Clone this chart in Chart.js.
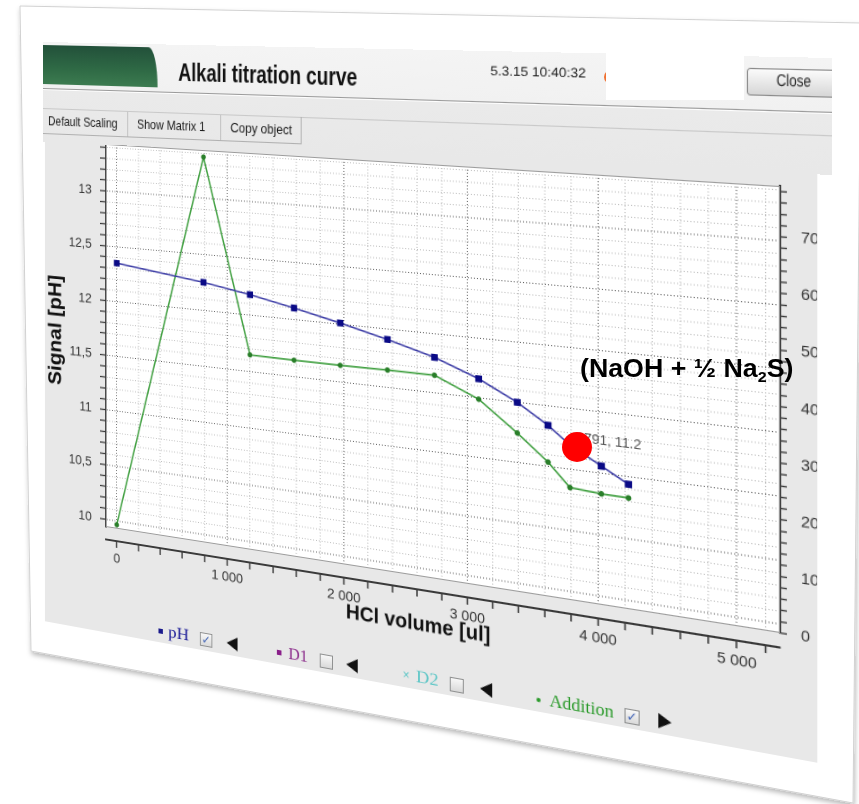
<!DOCTYPE html>
<html>
<head>
<meta charset="utf-8">
<title>Alkali titration curve</title>
<script src="https://cdn.jsdelivr.net/npm/chart.js@4.4.1/dist/chart.umd.min.js"></script>
<style>
  html, body { margin:0; padding:0; background:#fff; }
  body { width:859px; height:804px; position:relative; overflow:hidden; font-family:"Liberation Sans", Arial, sans-serif; }
  #frame { position:absolute; left:0; top:0; }
  .warp { position:absolute; left:0; top:0; transform-origin:0 0; overflow:hidden; }
  #chartWin { width:785px; height:612px; background:#e8e8e8; }
  #chartWin canvas { position:absolute; left:0; top:0; }
  #header { width:790px; height:100px; background:linear-gradient(#f4f4f4 0, #f1f1f1 46px, #eaeaea 48px, #e8e8e8 100%); }
  .txt { position:absolute; white-space:nowrap; line-height:1; transform-origin:0 50%; }
  .box { position:absolute; }
  .cb { position:absolute; width:12px; height:12px; top:593.5px; border:1px solid #8f9090; background:linear-gradient(#f7f7f7,#d9d9d9); }
  .cb span { position:absolute; left:1px; top:-1px; font:bold 12px "DejaVu Sans", sans-serif; color:#3b5fb4; line-height:14px; }
  .lt { position:absolute; width:0; height:0; top:593px; border-top:7px solid transparent; border-bottom:7px solid transparent; border-right:12px solid #111; }
  .rt { position:absolute; width:0; height:0; top:593px; border-top:7px solid transparent; border-bottom:7px solid transparent; border-left:12px solid #111; }
  .leg { font-family:"Liberation Serif", "Times New Roman", serif; font-size:17px; top:590.8px; }
</style>
</head>
<body>
<svg id="frame" width="859" height="804">
  <defs>
    <filter id="sh" x="-5%" y="-5%" width="110%" height="110%">
      <feDropShadow dx="1" dy="3" stdDeviation="2.5" flood-color="#000" flood-opacity="0.28"/>
    </filter>
  </defs>
  <polygon points="20,6 861,23 853,803 31,651" fill="#fff" stroke="#d2d2d2" stroke-width="1" filter="url(#sh)"/>
</svg>

<div id="chartWin" class="warp">
  <canvas id="c" width="785" height="612"></canvas>
  <!-- legend row -->
  <div class="box" style="left:134px;top:598px;width:5px;height:5px;background:#1a1a8c"></div>
  <div class="txt leg" style="left:144.5px;color:#1e1e98" data-w="24">pH</div>
  <div class="cb" style="left:181px"><span>✓</span></div>
  <div class="lt" style="left:211px"></div>

  <div class="box" style="left:266.3px;top:598px;width:5px;height:5px;background:#8a1f8a"></div>
  <div class="txt leg" style="left:278.5px;color:#8a2a8a" data-w="21">D1</div>
  <div class="cb" style="left:312px"></div>
  <div class="lt" style="left:340px"></div>

  <div class="txt" style="left:398.5px;top:594px;font-size:12px;color:#5cc6c6">×</div>
  <div class="txt leg" style="left:411.8px;color:#5cc6c6" data-w="23">D2</div>
  <div class="cb" style="left:446px"></div>
  <div class="lt" style="left:475.8px"></div>

  <div class="box" style="left:531px;top:598.5px;width:4px;height:4px;border-radius:50%;background:#2a9a2a"></div>
  <div class="txt leg" style="left:543.6px;color:#2a9a2a" data-w="60">Addition</div>
  <div class="cb" style="left:613.8px"><span>✓</span></div>
  <div class="rt" style="left:644.8px"></div>
</div>

<div id="header" class="warp">
  <div class="box" style="left:0;top:3px;width:131px;height:39px;background:linear-gradient(#22503a,#2f6a45 60%,#3c7b50);border-radius:0 10px 0 0 / 0 39px 0 0"></div>
  <div class="txt" style="left:154px;top:14.6px;font-size:24px;font-weight:bold;color:#111" data-w="191">Alkali titration curve</div>
  <div class="txt" style="left:478px;top:12.4px;font-size:12px;color:#222" data-w="91">5.3.15 10:40:32</div>
  <div class="box" style="left:716px;top:9.6px;width:80px;height:22.4px;border:1px solid #8a8a8a;border-radius:3px;background:linear-gradient(#fbfbfb,#d6d6d6)"></div>
  <div class="txt" style="left:742px;top:12.6px;font-size:14.5px;color:#222" data-w="30">Close</div>
  <div class="box" style="left:0;top:46px;width:790px;height:1px;background:#9a9a9a"></div>
  <div class="box" style="left:0;top:47px;width:790px;height:1px;background:#fff"></div>
  <div class="box" style="left:0;top:66px;width:790px;height:1px;background:#c9c9c9"></div>
  <div class="txt" style="left:5.8px;top:71.5px;font-size:13px;color:#1a1a1a" data-w="79.5">Default Scaling</div>
  <div class="box" style="left:96.6px;top:67px;width:1px;height:24px;background:#bdbdbd"></div>
  <div class="txt" style="left:108px;top:71.5px;font-size:13px;color:#1a1a1a" data-w="75.4">Show Matrix 1</div>
  <div class="box" style="left:199.7px;top:67px;width:1px;height:24px;background:#bdbdbd"></div>
  <div class="txt" style="left:210.6px;top:72px;font-size:13px;color:#1a1a1a" data-w="66.2">Copy object</div>
  <div class="box" style="left:286.3px;top:66px;width:1px;height:25px;background:#b0b0b0"></div>
  <div class="box" style="left:0;top:91px;width:287px;height:1px;background:#b0b0b0"></div>
</div>

<!-- overlays drawn on the photo itself (not part of the warped screen) -->
<div class="box" style="left:604px;top:70px;width:14px;height:14px;border-radius:50%;background:#f07030"></div>
<div class="box" style="left:606px;top:37px;width:138px;height:63px;background:#fff"></div>
<div class="txt" id="anno" style="left:580px;top:355.8px;font-size:25px;font-weight:bold;color:#000" data-w="213">(NaOH + ½ Na<span style="font-size:15px;position:relative;top:5px">2</span>S)</div>
<div class="box" style="left:562px;top:432px;width:30px;height:30px;border-radius:50%;background:#ff0000"></div>

<script>
// ---------------- data ----------------
const volume   = [0, 790, 1200, 1580, 1970, 2360, 2740, 3090, 3390, 3625, 3791, 4025, 4225];
const pHValues = [12.35, 12.25, 12.18, 12.10, 12.01, 11.91, 11.80, 11.66, 11.50, 11.34, 11.20, 11.06, 10.94];
const addition = [8, 776, 388, 387, 387, 388, 388, 352, 297, 250, 208, 204, 203];

const X_MIN = -100, X_MAX = 5300;
const PH_MIN = 9.93, PH_MAX = 13.43;
const ADD_MIN = 0, ADD_MAX = 790;

const xTicks = []; for (let v = 0; v <= 5200; v += 200) xTicks.push(v);
const phTicks = []; for (let i = 100; i <= 134; i++) phTicks.push(i / 10);
const addTicks = []; for (let v = 0; v <= 780; v += 20) addTicks.push(v);

const tipPoint = { x: 3791, y: 11.2, text: '3791, 11.2' };

// ---------------- helpers ----------------
const FONT = '"Liberation Sans", Arial, sans-serif';
const zeroPad = s => { s.paddingLeft = 0; s.paddingRight = 0; s.paddingTop = 0; s.paddingBottom = 0; };
const setTicks = vals => s => { s.ticks = vals.map(v => ({ value: v })); };
const isHalf = v => Math.abs(v * 2 - Math.round(v * 2)) < 1e-6;
const fmtPh = v => Number.isInteger(Math.round(v * 10) / 10) ? String(Math.round(v)) : String(Math.round(v * 10) / 10).replace('.', ',');
const fmtK = v => v === 0 ? '0' : (v / 1000) + ' 000';
const tickVal = ctx => (ctx && ctx.tick) ? ctx.tick.value : NaN;

const plotFrame = {
  id: 'plotFrame',
  beforeDraw(chart) {
    const { ctx, chartArea: a } = chart;
    ctx.save();
    ctx.fillStyle = '#ffffff';
    ctx.fillRect(a.left, a.top, a.right - a.left, a.bottom - a.top);
    ctx.restore();
  },
  afterDraw(chart) {
    const { ctx, chartArea: a } = chart;
    ctx.save();
    ctx.strokeStyle = '#9c9c9c';
    ctx.lineWidth = 1;
    ctx.strokeRect(a.left + 0.5, a.top + 0.5, a.right - a.left - 1, a.bottom - a.top - 1);
    ctx.restore();
  }
};

const chart = new Chart(document.getElementById('c'), {
  type: 'line',
  data: {
    datasets: [
      {
        label: 'pH',
        data: volume.map((x, i) => ({ x, y: pHValues[i] })),
        xAxisID: 'x', yAxisID: 'y',
        borderColor: '#3d3da6', borderWidth: 1.6,
        pointStyle: 'rect', pointRadius: 3.6,
        pointBackgroundColor: '#0a0a86', pointBorderColor: '#0a0a86',
        tension: 0
      },
      {
        label: 'Addition',
        data: volume.map((x, i) => ({ x, y: addition[i] })),
        xAxisID: 'x', yAxisID: 'yA',
        borderColor: '#3f9f3f', borderWidth: 1.6,
        pointRadius: 1.9,
        pointBackgroundColor: '#2a7f2a', pointBorderColor: '#2a7f2a',
        tension: 0
      }
    ]
  },
  options: {
    responsive: false,
    animation: false,
    devicePixelRatio: 2,
    layout: { padding: { left: 0, top: 102, right: 0, bottom: 48 } },
    plugins: { legend: { display: false }, tooltip: { enabled: false } },
    scales: {
      x: {
        type: 'linear', position: 'bottom', weight: 0,
        min: X_MIN, max: X_MAX,
        afterBuildTicks: setTicks(xTicks),
        afterFit: s => { s.height = 13; zeroPad(s); },
        ticks: { display: false, autoSkip: false },
        grid: {
          drawOnChartArea: true, drawTicks: false, lineWidth: 1,
          color: c => (tickVal(c) % 1000 === 0 ? '#5e5e5e' : '#b8b8b8')
        },
        border: { display: false, dash: [1, 2] }
      },
      x2: {
        type: 'linear', position: 'bottom', weight: 1,
        min: X_MIN, max: X_MAX,
        afterBuildTicks: setTicks(xTicks),
        afterFit: s => { s.height = 49; zeroPad(s); },
        ticks: {
          autoSkip: false, maxRotation: 0, padding: 3,
          callback: v => (v % 1000 === 0 ? fmtK(v) : ''),
          font: { family: FONT, size: 14 }, color: '#333'
        },
        grid: { drawOnChartArea: false, drawTicks: true, tickLength: 7, tickColor: '#3a3a3a', tickWidth: 1.5 },
        border: { display: true, color: '#3a3a3a', width: 2 },
        title: {
          display: true, text: 'HCl volume [ul]',
          font: { family: FONT, size: 20, weight: 'bold' }, color: '#111',
          padding: { top: 0, bottom: 3 }
        }
      },
      y: {
        type: 'linear', position: 'left',
        min: PH_MIN, max: PH_MAX,
        afterBuildTicks: setTicks(phTicks),
        afterFit: s => { s.width = 73; zeroPad(s); },
        ticks: {
          autoSkip: false, padding: 10,
          callback: v => (isHalf(v) ? fmtPh(v) : ''),
          font: { family: FONT, size: 14 }, color: '#333'
        },
        grid: {
          drawOnChartArea: true, drawTicks: true, tickLength: 7, lineWidth: 1,
          tickColor: '#3a3a3a', tickWidth: 1.3,
          color: c => (isHalf(tickVal(c)) ? '#5e5e5e' : '#bcbcbc')
        },
        border: { display: true, color: '#3a3a3a', width: 2, dash: [1, 2] },
        title: {
          display: true, text: 'Signal [pH]',
          font: { family: FONT, size: 22, weight: 'bold' }, color: '#111',
          padding: { top: 0, bottom: 0 }
        }
      },
      yA: {
        type: 'linear', position: 'right',
        min: ADD_MIN, max: ADD_MAX,
        afterBuildTicks: setTicks(addTicks),
        afterFit: s => { s.width = 32; zeroPad(s); },
        ticks: {
          autoSkip: false, padding: 12,
          callback: v => (v % 100 === 0 ? String(v) : ''),
          font: { family: FONT, size: 14 }, color: '#333'
        },
        grid: { drawOnChartArea: false, drawTicks: true, tickLength: 6, tickColor: '#3a3a3a', tickWidth: 1.3 },
        border: { display: true, color: '#3a3a3a', width: 2 }
      }
    }
  },
  plugins: [plotFrame]
});

// value label next to the hidden point
const win = document.getElementById('chartWin');
const tip = document.createElement('div');
tip.className = 'txt';
tip.textContent = tipPoint.text;
tip.style.fontSize = '13px';
tip.style.color = '#555';
tip.style.left = (chart.scales.x.getPixelForValue(tipPoint.x) + 6) + 'px';
tip.style.top = (chart.scales.y.getPixelForValue(tipPoint.y) - 8 - 6.5) + 'px';
win.appendChild(tip);

// fit texts to measured widths
document.querySelectorAll('[data-w]').forEach(el => {
  const w = parseFloat(el.getAttribute('data-w'));
  const nat = el.offsetWidth;
  if (nat > 0) el.style.transform = 'scaleX(' + (w / nat) + ')';
  el.style.transformOrigin = '0 50%';
});

// perspective of the photographed screen
function solve(A, b) {
  const n = b.length;
  const M = A.map((r, i) => r.concat([b[i]]));
  for (let c = 0; c < n; c++) {
    let p = c;
    for (let r = c + 1; r < n; r++) if (Math.abs(M[r][c]) > Math.abs(M[p][c])) p = r;
    [M[c], M[p]] = [M[p], M[c]];
    for (let r = 0; r < n; r++) {
      if (r === c) continue;
      const f = M[r][c] / M[c][c];
      for (let k = c; k <= n; k++) M[r][k] -= f * M[c][k];
    }
  }
  return M.map((r, i) => r[n] / r[i]);
}
function warp(el, src, dst) {
  const A = [], b = [];
  for (let i = 0; i < 4; i++) {
    const [x, y] = src[i], [X, Y] = dst[i];
    A.push([x, y, 1, 0, 0, 0, -x * X, -y * X]); b.push(X);
    A.push([0, 0, 0, x, y, 1, -x * Y, -y * Y]); b.push(Y);
  }
  const h = solve(A, b);
  const m = [h[0], h[3], 0, h[6], h[1], h[4], 0, h[7], 0, 0, 1, 0, h[2], h[5], 0, 1];
  el.style.transform = 'matrix3d(' + m.join(',') + ')';
}
const ca = chart.chartArea;
warp(win,
  [[ca.left, ca.top], [ca.right, ca.top], [ca.right, ca.bottom], [ca.left, ca.bottom]],
  [[106, 144], [780, 186], [780, 633], [106, 527]]);
warp(document.getElementById('header'),
  [[0, 0], [790, 0], [790, 100], [0, 100]],
  [[43, 42], [832, 58], [832, 175], [43, 142]]);
</script>
</body>
</html>
